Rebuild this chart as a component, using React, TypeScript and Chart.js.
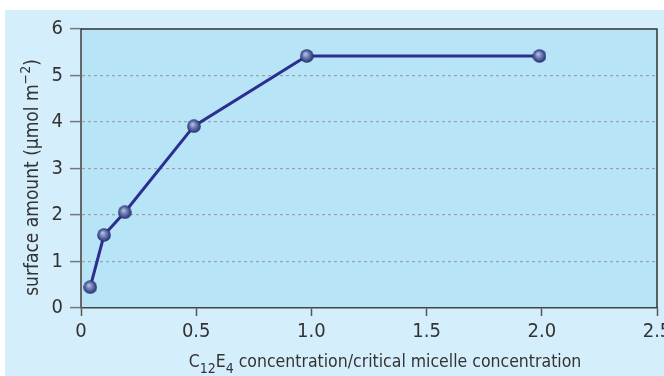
import React, { useEffect, useRef } from 'react';
import { Chart, registerables } from 'chart.js';

Chart.register(...registerables);

// ---- data ----
const concentrationRatio = [0.04, 0.1, 0.19, 0.49, 0.98, 1.99];
const surfaceAmount = [0.45, 1.57, 2.06, 3.91, 5.42, 5.42];
const xTickValues = [0, 0.5, 1, 1.5, 2, 2.5];
const xTickLabels = ['0', '0.5', '1.0', '1.5', '2.0', '2.5'];
const yTickValues = [0, 1, 2, 3, 4, 5, 6];
const yTickLabels = ['0', '1', '2', '3', '4', '5', '6'];
const xTitleParts = [
  { text: 'C', script: false },
  { text: '12', script: true },
  { text: 'E', script: false },
  { text: '4', script: true },
  { text: ' concentration/critical micelle concentration', script: false },
];
const yTitleParts = [
  { text: 'surface amount (μmol m', script: false },
  { text: '−2', script: true },
  { text: ')', script: false },
];

const FONT_STACK = '"DejaVu Sans Condensed", "Roboto Condensed", Roboto, sans-serif';

function makeSphere(): HTMLCanvasElement {
  const s = 14;
  const c = document.createElement('canvas');
  c.width = s;
  c.height = s;
  const g = c.getContext('2d')!;
  const grad = g.createRadialGradient(5.5, 5, 0.5, 7, 7, 7);
  grad.addColorStop(0, '#b4bedc');
  grad.addColorStop(0.45, '#6a78b2');
  grad.addColorStop(1, '#1d2a6c');
  g.fillStyle = grad;
  g.beginPath();
  g.arc(7, 7, 6.8, 0, Math.PI * 2);
  g.fill();
  return c;
}

function drawParts(ctx: CanvasRenderingContext2D, parts: { text: string; script: boolean }[], main: string, small: string, shift: number, cx: number, y: number) {
  let total = 0;
  const widths = parts.map((p) => {
    ctx.font = p.script ? small : main;
    const w = ctx.measureText(p.text).width;
    total += w;
    return w;
  });
  let x = cx - total / 2;
  parts.forEach((p, i) => {
    ctx.font = p.script ? small : main;
    ctx.fillText(p.text, x, p.script ? y + shift : y);
    x += widths[i];
  });
}

const decorPlugin = {
  id: 'decor',
  beforeDraw(chart: any) {
    const { ctx, chartArea: a } = chart;
    ctx.save();
    ctx.fillStyle = '#b8e4f8';
    ctx.fillRect(a.left, a.top, a.right - a.left, a.bottom - a.top);
    ctx.restore();
  },
  afterDraw(chart: any) {
    const { ctx, chartArea: a } = chart;
    ctx.save();
    ctx.strokeStyle = '#333333';
    ctx.lineWidth = 1.5;
    ctx.beginPath();
    ctx.moveTo(a.left, a.top);
    ctx.lineTo(a.right, a.top);
    ctx.lineTo(a.right, a.bottom);
    ctx.stroke();

    ctx.fillStyle = '#333333';
    ctx.textBaseline = 'alphabetic';
    ctx.textAlign = 'left';
    // x title
    const xc = (a.left + a.right) / 2 + 16;
    drawParts(ctx, xTitleParts, `17.5px ${FONT_STACK}`, `14px ${FONT_STACK}`, 6, xc, a.bottom + 59);
    // y title
    ctx.translate(33, (a.top + a.bottom) / 2 + 9);
    ctx.rotate(-Math.PI / 2);
    drawParts(ctx, yTitleParts, `19px ${FONT_STACK}`, `14px ${FONT_STACK}`, -8, 0, 0);
    ctx.restore();
  },
};

export default function App() {
  const ref = useRef<HTMLCanvasElement>(null);
  useEffect(() => {
    const sphere = makeSphere();
    const chart = new Chart(ref.current!, {
      type: 'line',
      data: {
        datasets: [
          {
            data: concentrationRatio.map((x, i) => ({ x, y: surfaceAmount[i] })),
            borderColor: '#2c2f8e',
            borderWidth: 3,
            pointStyle: sphere as any,
            pointRadius: 7,
            tension: 0,
            fill: false,
          },
        ],
      },
      plugins: [decorPlugin],
      options: {
        animation: false,
        responsive: false,
        events: [],
        layout: { padding: { left: 0, right: 48, top: 15, bottom: 0 } },
        plugins: { legend: { display: false }, tooltip: { enabled: false }, title: { display: false } },
        scales: {
          x: {
            type: 'linear',
            min: 0,
            max: 2.5,
            afterBuildTicks: (s: any) => {
              s.ticks = xTickValues.map((v) => ({ value: v }));
            },
            afterFit: (s: any) => {
              s.height = 68;
            },
            ticks: {
              callback: (_v: any, i: number) => xTickLabels[i],
              color: '#333333',
              font: { family: FONT_STACK, size: 20 },
              padding: 4,
              maxRotation: 0,
              autoSkip: false,
            },
            grid: { drawOnChartArea: false, drawTicks: true, tickLength: 8, tickColor: '#555555', tickWidth: 1.5 },
            border: { color: '#444444', width: 1.5 },
          },
          y: {
            type: 'linear',
            min: 0,
            max: 6,
            afterBuildTicks: (s: any) => {
              s.ticks = yTickValues.map((v) => ({ value: v }));
            },
            afterFit: (s: any) => {
              s.width = 76;
            },
            ticks: {
              callback: (_v: any, i: number) => yTickLabels[i],
              color: '#333333',
              font: { family: FONT_STACK, size: 20 },
              padding: 7,
              autoSkip: false,
            },
            grid: {
              color: (c: any) => (c.tick && c.tick.value > 0 && c.tick.value < 6 ? '#a0a0a0' : 'rgba(0,0,0,0)'),
              lineWidth: 1.2,
              tickLength: 11,
              tickColor: '#777777',
              tickWidth: 1.5,
            },
            border: { color: '#666666', width: 2, dash: [3, 3] },
          },
        },
      },
    });
    return () => chart.destroy();
  }, []);
  return (
    <div style={{ position: 'fixed', left: 0, top: 0, width: 664, height: 376, overflow: 'hidden', background: '#ffffff' }}>
      <div style={{ position: 'absolute', left: 5, top: 10, width: 700, height: 366, background: '#d5eefb' }}>
        <canvas ref={ref} width={700} height={366} style={{ display: 'block', width: 700, height: 366 }} />
      </div>
    </div>
  );
}
